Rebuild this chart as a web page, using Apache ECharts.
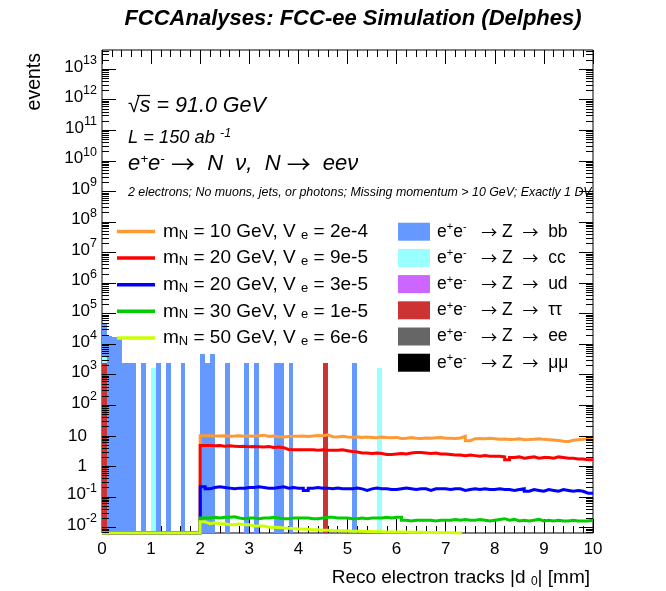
<!DOCTYPE html>
<html>
<head>
<meta charset="utf-8">
<script src="https://cdn.jsdelivr.net/npm/echarts@6/dist/echarts.min.js"></script>
<style>
  html, body { margin: 0; padding: 0; background: #fff; }
  #chart { width: 666px; height: 591px; }
</style>
</head>
<body>
<div id="chart"></div>
<script>
// ---- axis ranges ----
const X_MIN = 0;
const X_MAX = 10;
const BIN_WIDTH = 0.1;
const Y_MIN = Math.pow(10, -2.19);
const Y_MAX = Math.pow(10, 13.62);
const FONT = '"Liberation Sans", Arial, Helvetica, sans-serif';
const ARROW_FONT = '"Noto Sans CJK SC", "DejaVu Sans", sans-serif';

// ---- y axis tick labels (log scale, one per decade) ----
const yMajorValues = [0.01, 0.1, 1, 10, 1e2, 1e3, 1e4, 1e5, 1e6, 1e7, 1e8, 1e9, 1e10, 1e11, 1e12, 1e13];
const yMajorLabels = ['10{sup|-2}', '10{sup|-1}', '1', '10', '10{sup|2}', '10{sup|3}', '10{sup|4}', '10{sup|5}',
  '10{sup|6}', '10{sup|7}', '10{sup|8}', '10{sup|9}', '10{sup|10}', '10{sup|11}', '10{sup|12}', '10{sup|13}'];

// ---- signal samples: events per 0.1 mm bin of |d0| ----
const signalNames = [
  'm{sub|N} = 10 GeV, V {sub|e} = 2e-4',
  'm{sub|N} = 20 GeV, V {sub|e} = 9e-5',
  'm{sub|N} = 20 GeV, V {sub|e} = 3e-5',
  'm{sub|N} = 30 GeV, V {sub|e} = 1e-5',
  'm{sub|N} = 50 GeV, V {sub|e} = 6e-6'
];
const signalColors = ['#ff9933', '#ff0000', '#0000ff', '#00cc00', '#ccff00'];

const sigM10V2e4 = [
  0, 0, 0, 0, 0, 0, 0, 0, 0, 0, 0, 0, 0, 0, 0, 0, 0, 0, 0, 0,
  9.8, 9.9, 9.6, 9.7, 9.9, 9.5, 9.6, 9.8, 9.4, 9.6,
  9.5, 9.9, 10.3, 9.4, 9.6, 9.2, 8.9, 9.3, 9.4, 9.5,
  9.6, 9.3, 9.7, 10.1, 9.8, 10.5, 9.2, 9.0, 9.4, 8.9,
  8.8, 9.1, 8.6, 8.9, 8.7, 8.5, 8.9, 8.6, 8.4, 8.7,
  8.0, 8.1, 8.6, 8.2, 8.0, 8.3, 8.1, 8.4, 8.6, 8.2,
  8.2, 8.0, 8.3, 9.4, 6.8, 7.9, 8.0, 7.8, 8.1, 7.9,
  7.6, 7.7, 7.4, 7.5, 7.8, 7.3, 7.4, 7.6, 7.9, 7.5,
  7.3, 7.1, 6.9, 6.5, 6.4, 7.0, 7.3, 7.6, 7.9, 8.0
];
const sigM20V9e5 = [
  0, 0, 0, 0, 0, 0, 0, 0, 0, 0, 0, 0, 0, 0, 0, 0, 0, 0, 0, 0,
  4.7, 4.7, 4.6, 4.7, 4.5, 4.6, 4.5, 4.4, 4.5, 4.3,
  4.4, 4.3, 4.2, 4.4, 4.1, 4.2, 4.0, 3.5, 3.4, 3.4,
  3.4, 3.4, 3.4, 3.3, 3.4, 3.3, 3.3, 3.3, 3.4, 3.2,
  3.0, 2.9, 2.7, 2.7, 2.6, 2.7, 2.6, 2.4, 2.4, 2.5,
  2.6, 2.5, 2.7, 2.8, 2.8, 2.7, 2.6, 2.7, 2.5, 2.5,
  2.4, 2.3, 2.3, 2.2, 2.3, 2.2, 2.1, 2.2, 2.1, 2.1,
  2.1, 2.0, 1.6, 1.9, 2.0, 1.8, 1.9, 2.0, 1.8, 1.9,
  1.9, 1.8, 2.0, 1.9, 1.8, 1.8, 1.7, 1.7, 1.6, 1.6
];
const sigM20V3e5 = [
  0, 0, 0, 0, 0, 0, 0, 0, 0, 0, 0, 0, 0, 0, 0, 0, 0, 0, 0, 0,
  0.21, 0.18, 0.20, 0.21, 0.20, 0.19, 0.18, 0.19, 0.19, 0.20,
  0.20, 0.21, 0.20, 0.19, 0.19, 0.20, 0.21, 0.19, 0.20, 0.19,
  0.19, 0.16, 0.19, 0.20, 0.19, 0.19, 0.18, 0.19, 0.18, 0.18,
  0.18, 0.19, 0.18, 0.16, 0.18, 0.19, 0.18, 0.18, 0.17, 0.17,
  0.18, 0.19, 0.18, 0.17, 0.18, 0.18, 0.16, 0.18, 0.18, 0.18,
  0.17, 0.18, 0.18, 0.16, 0.17, 0.18, 0.17, 0.18, 0.17, 0.17,
  0.18, 0.17, 0.17, 0.16, 0.17, 0.18, 0.15, 0.17, 0.16, 0.15,
  0.17, 0.16, 0.15, 0.17, 0.16, 0.15, 0.16, 0.15, 0.13, 0.13
];
const sigM30V1e5 = [
  0, 0, 0, 0, 0, 0, 0, 0, 0, 0, 0, 0, 0, 0, 0, 0, 0, 0, 0, 0,
  0.020, 0.020, 0.021, 0.020, 0.021, 0.021, 0.022, 0.020, 0.019, 0.020,
  0.020, 0.019, 0.020, 0.020, 0.021, 0.020, 0.019, 0.019, 0.020, 0.020,
  0.020, 0.020, 0.019, 0.019, 0.020, 0.021, 0.021, 0.020, 0.020, 0.020,
  0.019, 0.019, 0.020, 0.019, 0.020, 0.020, 0.020, 0.021, 0.020, 0.021,
  0.021, 0.017, 0.016, 0.017, 0.017, 0.017, 0.017, 0.016, 0.017, 0.017,
  0.017, 0.018, 0.017, 0.018, 0.017, 0.017, 0.018, 0.017, 0.016, 0.017,
  0.018, 0.019, 0.017, 0.018, 0.016, 0.017, 0.016, 0.017, 0.018, 0.016,
  0.017, 0.016, 0.017, 0.016, 0.016, 0.017, 0.016, 0.016, 0.016, 0.017
];
const sigM50V6e6 = [
  0, 0, 0, 0, 0, 0, 0, 0, 0, 0, 0, 0, 0, 0, 0, 0, 0, 0, 0, 0,
  0.015, 0.013, 0.014, 0.013, 0.013, 0.012, 0.012, 0.013, 0.012, 0.012,
  0.011, 0.011, 0.011, 0.010, 0.010, 0.0098, 0.0095, 0.0093, 0.0090, 0.0088,
  0.0087, 0.0085, 0.0083, 0.0082, 0.0080, 0.0080, 0.0078, 0.0077, 0.0076, 0.0075,
  0.0074, 0.0073, 0.0073, 0.0072, 0.0072, 0.0071, 0.0071, 0.0070, 0.0070, 0.0070,
  0.0069, 0.0069, 0.0068, 0.0068, 0.0068, 0.0067, 0.0067, 0.0067, 0.0066, 0.0066,
  0.0066, 0.0065, 0.0065, 0.0050, 0.0049, 0.0048, 0.0048, 0.0047, 0.0046, 0.0046,
  0.0045, 0.0045, 0.0044, 0.0044, 0.0043, 0.0043, 0.0042, 0.0042, 0.0041, 0.0041,
  0.0040, 0.0040, 0.0039, 0.0039, 0.0038, 0.0038, 0.0037, 0.0037, 0.0036, 0.0036
];
const signalValues = [sigM10V2e4, sigM20V9e5, sigM20V3e5, sigM30V1e5, sigM50V6e6];

// ---- Z backgrounds: non-empty bins (low edge) and their weighted events ----
const bkgNames = [
  'e{sup|+}e{sup|-}   {arr|→} Z  {arr|→}  bb',
  'e{sup|+}e{sup|-}   {arr|→} Z  {arr|→}  cc',
  'e{sup|+}e{sup|-}   {arr|→} Z  {arr|→}  ud',
  'e{sup|+}e{sup|-}   {arr|→} Z  {arr|→}  ττ',
  'e{sup|+}e{sup|-}   {arr|→} Z  {arr|→}  ee',
  'e{sup|+}e{sup|-}   {arr|→} Z  {arr|→}  μμ'
];
const bkgColors = ['#6699ff', '#99ffff', '#cc66ff', '#cc3333', '#666666', '#000000'];

const bbBinLow  = [0.0, 0.1, 0.2, 0.3, 0.4, 0.5, 0.6, 0.8, 1.1, 1.3, 1.6, 2.0, 2.1, 2.2, 2.5, 2.9, 3.1, 3.5, 3.6, 3.8, 5.1];
const bbEvents  = [43700, 18700, 16300, 16300, 2340, 2340, 2340, 2340, 2340, 2340, 2340, 4670, 2340, 4670, 2340, 2340, 2340, 2340, 2340, 2340, 2340];
const ccBinLow  = [0.0, 1.0, 5.6];
const ccEvents  = [1680, 1680, 1680];
const udBinLow  = [];
const udEvents  = [];
const tautauBinLow = [0.0, 4.5];
const tautauEvents = [2340, 2340];
const eeBinLow  = [];
const eeEvents  = [];
const mumuBinLow = [];
const mumuEvents = [];

// stacking order, bottom to top (index into bkgNames / bkgColors)
const stackOrder = [
  { idx: 3, bins: tautauBinLow, events: tautauEvents },
  { idx: 5, bins: mumuBinLow, events: mumuEvents },
  { idx: 4, bins: eeBinLow, events: eeEvents },
  { idx: 2, bins: udBinLow, events: udEvents },
  { idx: 1, bins: ccBinLow, events: ccEvents },
  { idx: 0, bins: bbBinLow, events: bbEvents }
];

// ---- build stacked bins ----
const cumulative = {};
const bkgSeries = stackOrder.map(function (proc) {
  const data = proc.bins.map(function (lo, i) {
    const key = Math.round(lo / BIN_WIDTH);
    const base = cumulative[key] || 0;
    cumulative[key] = base + proc.events[i];
    return [lo, proc.events[i], base];
  });
  return {
    type: 'custom',
    name: bkgNames[proc.idx],
    dimensions: ['x', 'events', 'base'],
    encode: { x: 0, y: 1 },
    itemStyle: { color: bkgColors[proc.idx] },
    clip: true,
    data: data,
    renderItem: function (params, api) {
      const lo = api.value(0);
      const h = api.value(1);
      const base = api.value(2);
      const p0 = api.coord([lo, base > 0 ? base : Y_MIN]);
      const p1 = api.coord([lo + BIN_WIDTH, base + h]);
      // snap to whole pixels so neighbouring bins join without seams
      const x0 = Math.round(p0[0]);
      const x1 = Math.round(p1[0]);
      const yTop = Math.round(p1[1]);
      const yBot = Math.round(p0[1]);
      return {
        type: 'rect',
        shape: { x: x0, y: yTop, width: x1 - x0, height: yBot - yTop },
        style: { fill: api.visual('color') }
      };
    }
  };
});

// ---- signal step histograms ----
const signalSeries = signalValues.map(function (vals, s) {
  const pts = vals.map(function (v, i) {
    return [+(i * BIN_WIDTH).toFixed(1), v > 0 ? v : Y_MIN];
  });
  pts.push([X_MAX, pts[pts.length - 1][1]]);
  return {
    type: 'line',
    name: signalNames[s],
    step: 'end',
    symbol: 'none',
    showSymbol: false,
    z: 4,
    itemStyle: { color: signalColors[s] },
    lineStyle: { color: signalColors[s], width: 3, cap: 'butt', join: 'miter' },
    data: pts
  };
});

// ---- log-axis decorations: decade ticks with labels, and 2..9 sub-ticks ----
const yMinorValues = [];
for (let k = -3; k <= 13; k++) {
  for (let m = 2; m <= 9; m++) {
    const v = m * Math.pow(10, k);
    if (v > Y_MIN && v < Y_MAX) yMinorValues.push(v);
  }
}

const supRich = { fontSize: 12.5, fontFamily: FONT, lineHeight: 12, verticalAlign: 'top', fill: '#000' };

const yMajorSeries = {
  type: 'custom',
  name: 'y-major-ticks',
  silent: true,
  clip: false,
  z: 5,
  encode: { x: 0, y: 1 },
  data: yMajorValues.map(function (v) { return [X_MIN, v]; }),
  renderItem: function (params, api) {
    const v = api.value(1);
    const l = api.coord([X_MIN, v]);
    const r = api.coord([X_MAX, v]);
    const y = Math.round(l[1]) + 0.5;
    const label = yMajorLabels[params.dataIndex];
    const hasSup = label.indexOf('{sup|') >= 0;
    return {
      type: 'group',
      children: [
        { type: 'line', shape: { x1: l[0], y1: y, x2: l[0] + 14, y2: y }, style: { stroke: '#000', lineWidth: 1 } },
        { type: 'line', shape: { x1: r[0] - 14, y1: y, x2: r[0], y2: y }, style: { stroke: '#000', lineWidth: 1 } },
        {
          type: 'text',
          x: l[0] - (hasSup ? 5 : 15),
          y: l[1] + (hasSup ? -2 : 0.5),
          style: {
            text: label, align: 'right', verticalAlign: 'middle',
            fontSize: 17, fontFamily: FONT, lineHeight: 26, fill: '#000',
            rich: { sup: supRich }
          }
        }
      ]
    };
  }
};

const yMinorSeries = {
  type: 'custom',
  name: 'y-minor-ticks',
  silent: true,
  clip: false,
  z: 5,
  encode: { x: 0, y: 1 },
  data: yMinorValues.map(function (v) { return [X_MIN, v]; }),
  renderItem: function (params, api) {
    const v = api.value(1);
    const l = api.coord([X_MIN, v]);
    const r = api.coord([X_MAX, v]);
    const y = Math.round(l[1]) + 0.5;
    return {
      type: 'group',
      children: [
        { type: 'line', shape: { x1: l[0], y1: y, x2: l[0] + 7, y2: y }, style: { stroke: '#000', lineWidth: 1 } },
        { type: 'line', shape: { x1: r[0] - 7, y1: y, x2: r[0], y2: y }, style: { stroke: '#000', lineWidth: 1 } }
      ]
    };
  }
};

const xAxisCommon = {
  type: 'value', min: X_MIN, max: X_MAX, interval: 1,
  axisLine: { show: false },
  splitLine: { show: false },
  axisTick: { inside: true, length: 14, lineStyle: { color: '#000', width: 1 } },
  minorTick: { show: true, splitNumber: 5, length: 7, lineStyle: { color: '#000', width: 1 } }
};

const chart = echarts.init(document.getElementById('chart'), null, { renderer: 'canvas' });
chart.setOption({
  animation: false,
  backgroundColor: '#fff',
  textStyle: { fontFamily: FONT },
  grid: { left: 102, right: 73, top: 50, bottom: 58, show: true, borderColor: '#000', borderWidth: 1, backgroundColor: 'transparent' },
  xAxis: [
    Object.assign({}, xAxisCommon, {
      position: 'bottom',
      axisLabel: { margin: 8, fontSize: 17, color: '#000', fontFamily: FONT }
    }),
    Object.assign({}, xAxisCommon, { position: 'top', axisLabel: { show: false } })
  ],
  yAxis: {
    type: 'log', logBase: 10, min: Y_MIN, max: Y_MAX,
    axisLine: { show: false }, axisTick: { show: false },
    axisLabel: { show: false }, splitLine: { show: false }
  },
  legend: [
    {
      data: signalNames,
      orient: 'vertical', left: 117, top: 221.5, padding: 0,
      itemWidth: 38, itemHeight: 3.5, itemGap: 6.6, icon: 'rect',
      selectedMode: false,
      itemStyle: { borderWidth: 0 },
      textStyle: {
        color: '#000', fontFamily: FONT, fontSize: 19, lineHeight: 20, padding: [0, 0, 0, 3],
        rich: { sub: { fontSize: 13, fontFamily: FONT, lineHeight: 6, verticalAlign: 'bottom', color: '#000' } }
      }
    },
    {
      data: bkgNames,
      orient: 'vertical', left: 398, top: 221.7, padding: 0,
      itemWidth: 32, itemHeight: 18, itemGap: 6.2, icon: 'rect',
      selectedMode: false,
      itemStyle: { borderWidth: 0 },
      textStyle: {
        color: '#000', fontFamily: FONT, fontSize: 17.5, lineHeight: 20, padding: [0, 0, 0, 2],
        rich: {
          sup: { fontSize: 11, fontFamily: FONT, lineHeight: 8, verticalAlign: 'top', color: '#000' },
          arr: { fontSize: 16, fontFamily: ARROW_FONT, lineHeight: 20, color: '#000' }
        }
      }
    }
  ],
  graphic: [
    { type: 'text', x: 353, y: 19, style: { text: 'FCCAnalyses: FCC-ee Simulation (Delphes)', align: 'center', verticalAlign: 'middle', font: 'italic bold 22px ' + FONT, fill: '#000' } },
    { type: 'text', x: 128, y: 106, style: { text: '√s = 91.0 GeV', verticalAlign: 'middle', font: 'italic 21.5px ' + FONT, fill: '#000' } },
    { type: 'line', shape: { x1: 137, y1: 95.5, x2: 150, y2: 95.5 }, style: { stroke: '#000', lineWidth: 1.2 } },
    { type: 'text', x: 128, y: 138, style: { text: 'L = 150 ab {sup|-1}', verticalAlign: 'middle', font: 'italic 18.3px ' + FONT, lineHeight: 22, fill: '#000',
        rich: { sup: { fontSize: 12.5, fontFamily: FONT, fontStyle: 'italic', lineHeight: 12, verticalAlign: 'top', fill: '#000' } } } },
    { type: 'text', x: 128, y: 164, style: { text: 'e{sup|+}e{sup|-} {arr|→}  N  ν,  N {arr|→}  eeν', verticalAlign: 'middle', font: 'italic 22px ' + FONT, lineHeight: 24, fill: '#000',
        rich: {
          sup: { fontSize: 13.5, fontFamily: FONT, fontStyle: 'italic', lineHeight: 10, verticalAlign: 'top', fill: '#000' },
          arr: { fontSize: 24, fontFamily: ARROW_FONT, lineHeight: 24, fill: '#000' }
        } } },
    { type: 'text', x: 128, y: 193, style: { text: '2 electrons; No muons, jets, or photons; Missing momentum > 10 GeV; Exactly 1 DV', verticalAlign: 'middle', font: 'italic 12.4px ' + FONT, fill: '#000' } },
    { type: 'text', x: 590, y: 578, style: { text: 'Reco electron tracks |d {sub|0}| [mm]', align: 'right', verticalAlign: 'middle', font: '19px ' + FONT, fill: '#000',
        rich: { sub: { fontSize: 12, fontFamily: FONT, lineHeight: 2, verticalAlign: 'bottom', fill: '#000' } } } },
    { type: 'text', x: 35, y: 53, rotation: Math.PI / 2, style: { text: 'events', align: 'right', verticalAlign: 'middle', font: '19.5px ' + FONT, fill: '#000' } }
  ],
  series: bkgSeries.concat(signalSeries, [yMinorSeries, yMajorSeries])
});
</script>
</body>
</html>
